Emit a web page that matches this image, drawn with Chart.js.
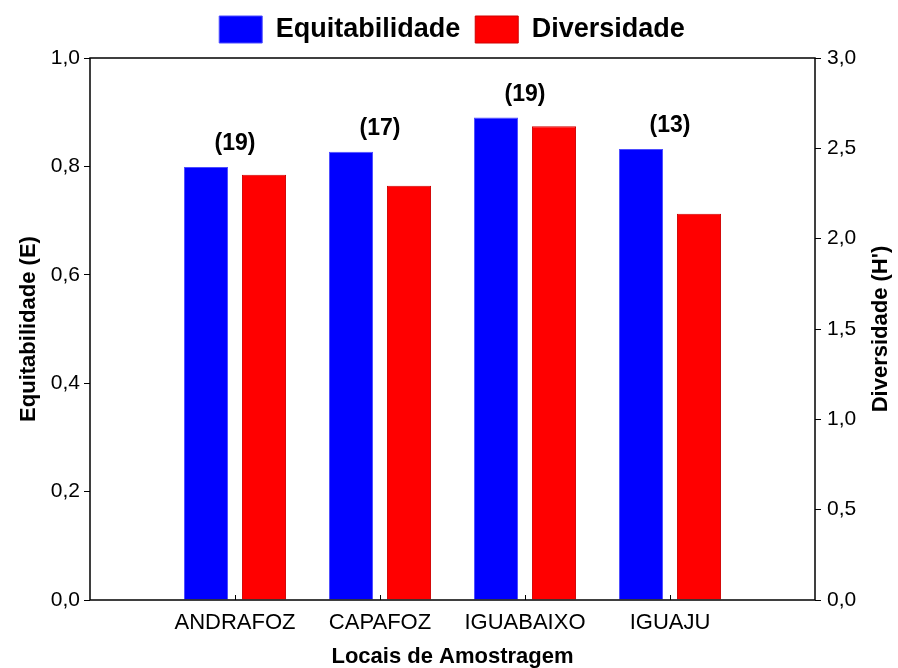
<!DOCTYPE html>
<html>
<head>
<meta charset="utf-8">
<script src="https://cdn.jsdelivr.net/npm/chart.js@4.4.1/dist/chart.umd.min.js"></script>
<style>
  html, body { margin: 0; padding: 0; background: #fff; }
  #wrap { width: 898px; height: 668px; }
</style>
</head>
<body>
<div id="wrap"><canvas id="chart" width="898" height="668"></canvas></div>
<script>
// dados (categorias vazias nas pontas para deixar espaço igual ao gráfico original)
const locais = ['', 'ANDRAFOZ', 'CAPAFOZ', 'IGUABAIXO', 'IGUAJU', ''];
const equitabilidade = [null, 0.799, 0.827, 0.890, 0.832, null];
const diversidade = [null, 2.354, 2.293, 2.622, 2.138, null];
const riqueza = ['', '(19)', '(17)', '(19)', '(13)', ''];
const ticksE = ['0,0', '0,2', '0,4', '0,6', '0,8', '1,0'];
const ticksH = ['0,0', '0,5', '1,0', '1,5', '2,0', '2,5', '3,0'];

const FONT = "'Liberation Sans', Arial, sans-serif";

// legenda com altura fixa, para a área do gráfico começar no mesmo lugar
const legendaFixa = {
  id: 'legendaFixa',
  beforeLayout(chart) {
    const lg = chart.legend;
    if (lg && !lg._fixa) {
      const fit = lg.fit.bind(lg);
      lg.fit = function () { fit(); this.height = 57; };
      lg._fixa = true;
    }
  }
};

// moldura + marcas internas no eixo x + rótulos (n) + título da direita
const extras = {
  id: 'extras',
  afterDatasetsDraw(chart) {
    const { ctx, scales } = chart;
    const m0 = chart.getDatasetMeta(0), m1 = chart.getDatasetMeta(1);
    ctx.save();
    ctx.font = 'bold 23px ' + FONT;
    ctx.fillStyle = '#000';
    ctx.textAlign = 'center';
    ctx.textBaseline = 'middle';
    riqueza.forEach((txt, i) => {
      if (!txt) return;
      const top = Math.min(m0.data[i].y, m1.data[i].y);
      ctx.fillText(txt, scales.x.getPixelForValue(i), top - 23);
    });
    ctx.restore();
  },
  afterDraw(chart) {
    const { ctx, chartArea: a, scales } = chart;
    ctx.save();
    ctx.strokeStyle = '#000';
    ctx.lineWidth = 1.5;
    ctx.strokeRect(a.left, a.top, a.right - a.left, a.bottom - a.top);
    ctx.lineWidth = 1;
    ctx.beginPath();
    for (let i = 1; i < locais.length - 1; i++) {
      const x = Math.round(scales.x.getPixelForValue(i)) + 0.5;
      ctx.moveTo(x, a.bottom);
      ctx.lineTo(x, a.bottom - 5);
    }
    ctx.stroke();
    // título do eixo direito, lido de baixo para cima
    ctx.translate(881, (a.top + a.bottom) / 2);
    ctx.rotate(-Math.PI / 2);
    ctx.font = 'bold 22px ' + FONT;
    ctx.fillStyle = '#000';
    ctx.textAlign = 'center';
    ctx.textBaseline = 'middle';
    ctx.fillText("Diversidade (H')", 0, 0);
    ctx.restore();
  }
};

new Chart(document.getElementById('chart'), {
  type: 'bar',
  data: {
    labels: locais,
    datasets: [
      {
        label: 'Equitabilidade',
        data: equitabilidade,
        yAxisID: 'yE',
        backgroundColor: '#0000ff',
        borderColor: '#4d4dff',
        borderWidth: 1
      },
      {
        label: 'Diversidade',
        data: diversidade,
        yAxisID: 'yH',
        backgroundColor: '#ff0000',
        borderColor: '#d00000',
        borderWidth: 1
      }
    ]
  },
  options: {
    responsive: false,
    animation: false,
    devicePixelRatio: 1,
    layout: { padding: { top: 1, left: 6, right: 0, bottom: 0 } },
    datasets: { bar: { categoryPercentage: 0.8, barPercentage: 0.76 } },
    plugins: {
      tooltip: { enabled: false },
      legend: {
        position: 'top',
        labels: {
          boxWidth: 43,
          boxHeight: 27,
          padding: 15,
          color: '#000',
          font: { family: FONT, size: 27, weight: 'bold' }
        }
      }
    },
    scales: {
      x: {
        offset: false,
        grid: { display: false },
        border: { display: false },
        ticks: {
          color: '#000',
          padding: 2,
          maxRotation: 0,
          autoSkip: false,
          font: { family: FONT, size: 22 }
        },
        title: {
          display: true,
          text: 'Locais de Amostragem',
          color: '#000',
          padding: { top: 0, bottom: -2 },
          font: { family: FONT, size: 22, weight: 'bold' }
        },
        afterFit(s) { s.height = 68; }
      },
      yE: {
        position: 'left',
        min: 0,
        max: 1,
        border: { display: false },
        grid: { drawOnChartArea: false, color: '#000', tickLength: 6 },
        ticks: {
          stepSize: 0.2,
          color: '#000',
          padding: 4,
          font: { family: FONT, size: 21 },
          callback: (v, i) => ticksE[i]
        },
        title: {
          display: true,
          text: 'Equitabilidade (E)',
          color: '#000',
          padding: { top: 10, bottom: 0 },
          font: { family: FONT, size: 22, weight: 'bold' }
        },
        afterFit(s) { s.width = 84; }
      },
      yH: {
        position: 'right',
        min: 0,
        max: 3,
        border: { display: false },
        grid: { drawOnChartArea: false, color: '#000', tickLength: 6 },
        ticks: {
          stepSize: 0.5,
          color: '#000',
          padding: 6,
          font: { family: FONT, size: 21 },
          callback: (v, i) => ticksH[i]
        },
        afterFit(s) { s.width = 83; }
      }
    }
  },
  plugins: [legendaFixa, extras]
});
</script>
</body>
</html>
